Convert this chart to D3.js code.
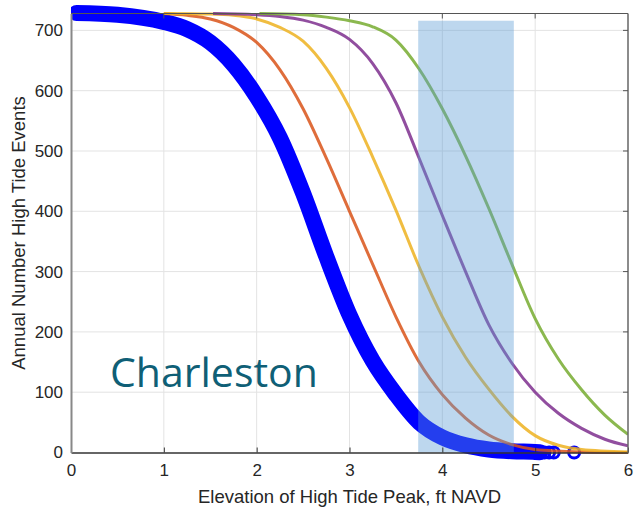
<!DOCTYPE html>
<html>
<head>
<meta charset="utf-8">
<script src="https://cdnjs.cloudflare.com/ajax/libs/d3/7.8.5/d3.min.js"></script>
<style>
    body { margin: 0; background: #fff; }
    .tick text { font-family: "Liberation Sans", Arial, sans-serif; }
</style>
</head>
<body>
<div class="chartdiv"></div>
<script>
// curves (x = elevation ft NAVD, y = events/yr)
let blueX = [0.06, 0.5, 1.0, 1.25, 1.5, 1.75, 2.0, 2.25, 2.5, 2.75, 3.0, 3.25, 3.5, 3.75, 4.0, 4.25, 4.5, 4.75, 5.0, 5.05]
let blueY = [729, 726, 714, 702, 680, 643, 590, 522, 430, 325, 228, 152, 96, 50, 25, 12, 5, 2, 1, 0.5]
let blueTailX = [5.1, 5.15, 5.2, 5.42]
let blueTailY = [0, 0, 0, 0]

let orangeX = [1.0, 1.25, 1.5, 1.75, 2.0, 2.25, 2.5, 2.75, 3.0, 3.25, 3.5, 3.75, 4.0, 4.25, 4.5, 4.75, 5.0, 5.5, 6.0]
let orangeY = [728, 725, 719, 705, 680, 635, 570, 488, 400, 312, 225, 150, 96, 57, 29, 13, 5, 1, 0]

let yellowX = [1.0, 1.5, 1.75, 2.0, 2.25, 2.5, 2.75, 3.0, 3.25, 3.5, 3.75, 4.0, 4.25, 4.5, 4.75, 5.0, 5.25, 5.5, 6.0]
let yellowY = [728, 727, 725, 719, 705, 682, 637, 572, 490, 402, 308, 225, 158, 105, 60, 28, 12, 5, 1]

let purpleX = [1.53, 2.0, 2.25, 2.5, 2.75, 3.0, 3.25, 3.5, 3.75, 4.0, 4.25, 4.5, 4.75, 5.0, 5.25, 5.5, 5.75, 6.0]
let purpleY = [728, 726, 723, 717, 705, 685, 645, 580, 488, 393, 300, 212, 148, 100, 65, 40, 22, 11]

let greenX = [2.03, 2.5, 2.75, 3.0, 3.25, 3.5, 3.75, 4.0, 4.25, 4.5, 4.75, 5.0, 5.25, 5.5, 5.75, 6.0]
let greenY = [728, 726, 722, 716, 706, 684, 636, 570, 492, 405, 312, 222, 155, 104, 62, 30]

let bandX = [3.74, 4.77]   // shaded elevation range
let bandTop = 716

let xTicks = [0, 1, 2, 3, 4, 5, 6]
let yTicks = [0, 100, 200, 300, 400, 500, 600, 700]

let W = 634, H = 508
let m = { left: 71, right: 6, top: 13.5, bottom: 55.5 }

let xScale = d3.scaleLinear().domain([0, 6]).range([m.left, W - m.right])
let yScale = d3.scaleLinear().domain([0, 728]).range([H - m.bottom, m.top])

let svg = d3.select('.chartdiv').append('svg')
    .attr('width', W)
    .attr('height', H)

let plotW = W - m.left - m.right,
    plotH = H - m.top - m.bottom

// grid
svg.append('g')
    .selectAll('line.vgrid')
    .data(xTicks.slice(1, -1))
    .enter().append('line')
    .attr('x1', d => xScale(d)).attr('x2', d => xScale(d))
    .attr('y1', m.top).attr('y2', H - m.bottom)
    .style('stroke', '#e3e3e3').style('stroke-width', 1)
svg.append('g')
    .selectAll('line.hgrid')
    .data(yTicks.slice(1))
    .enter().append('line')
    .attr('x1', m.left).attr('x2', W - m.right)
    .attr('y1', d => yScale(d)).attr('y2', d => yScale(d))
    .style('stroke', '#e3e3e3').style('stroke-width', 1)

let toPts = (xs, ys) => xs.map((x, i) => ({ x: x, y: ys[i] }))
let line = d3.line()
    .x(d => xScale(d.x))
    .y(d => yScale(d.y))
    .curve(d3.curveMonotoneX)

let clip = svg.append('clipPath').attr('id', 'plotclip')
clip.append('rect')
    .attr('x', m.left).attr('y', 0)
    .attr('width', plotW).attr('height', H - m.bottom + 12)

let g = svg.append('g').attr('clip-path', 'url(#plotclip)')

// thick blue marker band
g.append('path')
    .datum(toPts(blueX, blueY))
    .attr('d', line)
    .style('fill', 'none')
    .style('stroke', '#0000ff')
    .style('stroke-width', 16)
    .style('stroke-linecap', 'round')
    .style('stroke-linejoin', 'round')

g.selectAll('.bluetail')
    .data(toPts(blueTailX, blueTailY))
    .enter().append('circle')
    .attr('cx', d => xScale(d.x))
    .attr('cy', d => yScale(d.y))
    .attr('r', 5.5)
    .style('fill', 'none')
    .style('stroke', '#0000ff')
    .style('stroke-width', 3)

let series = [
    { x: orangeX, y: orangeY, c: '#D95319' },
    { x: yellowX, y: yellowY, c: '#EDB120' },
    { x: purpleX, y: purpleY, c: '#7E2F8E' },
    { x: greenX, y: greenY, c: '#77AC30' }
]
series.forEach(s => {
    g.append('path')
        .datum(toPts(s.x, s.y))
        .attr('d', line)
        .style('fill', 'none')
        .style('stroke', s.c)
        .style('stroke-opacity', 0.85)
        .style('stroke-width', 3)
})

// shaded range on top
svg.append('rect')
    .attr('x', xScale(bandX[0]))
    .attr('width', xScale(bandX[1]) - xScale(bandX[0]))
    .attr('y', yScale(bandTop))
    .attr('height', yScale(0) - yScale(bandTop))
    .style('fill', '#5b9bd5')
    .style('fill-opacity', 0.4)

// axes (matlab style, ticks inward)
let xAxis = svg.append('g')
    .attr('transform', 'translate(0,' + (H - m.bottom) + ')')
    .call(d3.axisBottom(xScale).tickValues(xTicks).tickFormat(d3.format('d'))
        .tickSize(-5).tickPadding(11).tickSizeOuter(0))
let yAxis = svg.append('g')
    .attr('transform', 'translate(' + m.left + ',0)')
    .call(d3.axisLeft(yScale).tickValues(yTicks).tickFormat(d3.format('d'))
        .tickSize(0).tickPadding(8).tickSizeOuter(0))

xAxis.select('.domain').style('stroke', '#333').style('stroke-width', 1.5)
xAxis.selectAll('.tick line').style('stroke', '#333')
yAxis.select('.domain').style('stroke', '#888').style('stroke-width', 2)
svg.selectAll('.tick text')
    .style('font-size', '17px')
    .style('fill', '#262626')
xAxis.selectAll('.tick text').attr('dy', '0.71em')

// box: top and right edges with inward ticks
svg.append('line')
    .attr('x1', m.left).attr('x2', W - m.right)
    .attr('y1', m.top).attr('y2', m.top)
    .style('stroke', '#555').style('stroke-width', 1)
svg.append('line')
    .attr('x1', W - m.right).attr('x2', W - m.right)
    .attr('y1', m.top).attr('y2', H - m.bottom)
    .style('stroke', '#666').style('stroke-width', 1.5)
svg.append('g').selectAll('line')
    .data(xTicks.slice(1, -1))
    .enter().append('line')
    .attr('x1', d => xScale(d)).attr('x2', d => xScale(d))
    .attr('y1', m.top).attr('y2', m.top + 5)
    .style('stroke', '#555')
svg.append('g').selectAll('line')
    .data(yTicks.slice(1))
    .enter().append('line')
    .attr('x1', W - m.right - 5).attr('x2', W - m.right)
    .attr('y1', d => yScale(d)).attr('y2', d => yScale(d))
    .style('stroke', '#555')

// labels
svg.append('text')
    .attr('x', m.left + plotW / 2)
    .attr('y', 503)
    .attr('text-anchor', 'middle')
    .style('font-family', '"Liberation Sans", Arial, sans-serif')
    .style('font-size', '18.5px')
    .style('fill', '#262626')
    .text('Elevation of High Tide Peak, ft NAVD')

svg.append('text')
    .attr('transform', 'translate(25,' + (m.top + plotH / 2) + ') rotate(-90)')
    .attr('text-anchor', 'middle')
    .style('font-family', '"Liberation Sans", Arial, sans-serif')
    .style('font-size', '18.5px')
    .style('fill', '#262626')
    .text('Annual Number High Tide Events')

svg.append('text')
    .attr('x', 110)
    .attr('y', 387)
    .style('font-family', '"Open Sans", sans-serif')
    .style('font-size', '41px')
    .style('fill', '#0f5f76')
    .text('Charleston')
</script>
</body>
</html>
